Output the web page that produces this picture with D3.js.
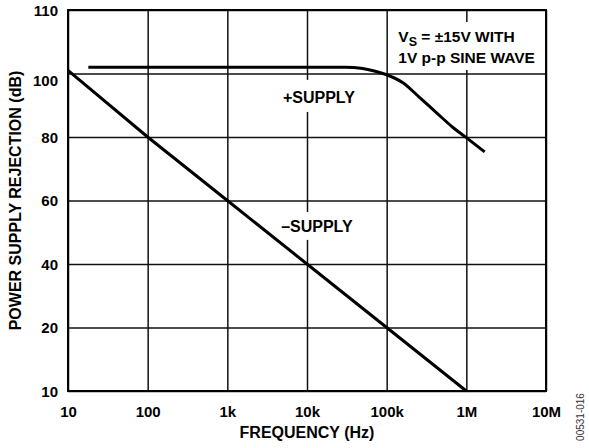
<!DOCTYPE html>
<html>
<head>
<meta charset="utf-8">
<script src="https://cdn.jsdelivr.net/npm/d3@7"></script>
<style>
  body { margin: 0; background: #fff; }
  text { font-family: "Liberation Sans", Arial, sans-serif; font-weight: bold; fill: #000; }
</style>
</head>
<body>
<svg class="chart"></svg>
<script>
// data
var xTicks = [10, 100, 1e3, 1e4, 1e5, 1e6, 1e7];
var xLabels = ["10", "100", "1k", "10k", "100k", "1M", "10M"];
var yTicks = [10, 20, 40, 60, 80, 100, 110];
var yLabels = ["10", "20", "40", "60", "80", "100", "110"];

var plusFreq = [18, 1000, 10000, 30000, 50000, 70000, 100000, 160000, 260000, 420000, 680000, 1000000, 1700000];
var plusDb   = [101, 101, 101, 101, 100.8, 100.4, 99.6, 97.1, 92.4, 87.7, 83, 79.8, 75.3];

var minusFreq = [10, 100, 1e3, 1e4, 1e5, 1e6];
var minusDb   = [100.5, 80, 60, 40, 20, 10];

function show() {
    'use strict';

    var margin = {top: 10, right: 43, bottom: 57, left: 68},
        width = 589 - margin.left - margin.right,
        height = 448 - margin.top - margin.bottom;

    var root = d3.select(".chart")
        .attr("width", 589)
        .attr("height", 448);

    var svg = root.append("g")
        .attr("transform", "translate(" + margin.left + "," + margin.top + ")");

    var x = d3.scaleLog().domain([10, 1e7]).range([0, width]);
    // ticks sit evenly spaced although they are not evenly spaced in dB
    var y = d3.scaleLinear()
        .domain(yTicks)
        .range(yTicks.map(function (d, i) { return height - i * height / (yTicks.length - 1); }));

    // tick labels
    var xa = svg.append("g")
        .attr("transform", "translate(0," + height + ")")
        .call(d3.axisBottom(x).tickValues(xTicks).tickSize(0).tickPadding(15)
            .tickFormat(function (d, i) { return xLabels[i]; }));
    xa.select(".domain").remove();
    xa.selectAll("text").style("font-size", "15px").style("font-family", null);

    var ya = svg.append("g")
        .call(d3.axisLeft(y).tickValues(yTicks).tickSize(0).tickPadding(10)
            .tickFormat(function (d, i) { return yLabels[i]; }));
    ya.select(".domain").remove();
    ya.selectAll("text").style("font-size", "15px").style("font-family", null)
        .attr("dy", function (d) { return d === 100 ? "0.82em" : "0.36em"; });

    // grid
    svg.append("g")
        .attr("transform", "translate(0," + height + ")")
        .call(d3.axisBottom(x).tickValues(xTicks).tickSize(-height).tickFormat(""))
        .call(function (g) { g.select(".domain").remove(); })
        .selectAll("line").attr("stroke", "#111").attr("stroke-width", 1.5);

    svg.append("g")
        .call(d3.axisLeft(y).tickValues(yTicks).tickSize(-width).tickFormat(""))
        .call(function (g) { g.select(".domain").remove(); })
        .selectAll("line").attr("stroke", "#111").attr("stroke-width", 1.5);

    // white boxes behind the labels
    svg.append("rect")
        .attr("x", x(1.17e5)).attr("y", 12)
        .attr("width", width - x(1.17e5) - 1).attr("height", 48)
        .attr("fill", "#fff");

    svg.append("rect").attr("x", x(5.5e3)).attr("y", y(98))
        .attr("width", 72).attr("height", y(87.9) - y(98)).attr("fill", "#fff");
    svg.append("rect").attr("x", x(5.5e3)).attr("y", y(56.4))
        .attr("width", 72).attr("height", y(47.6) - y(56.4)).attr("fill", "#fff");

    // curves
    var plus = plusFreq.map(function (f, i) { return [f, plusDb[i]]; });
    var minus = minusFreq.map(function (f, i) { return [f, minusDb[i]]; });

    svg.append("path")
        .datum(plus)
        .attr("fill", "none").attr("stroke", "#000").attr("stroke-width", 3)
        .attr("d", d3.line().x(function (d) { return x(d[0]); }).y(function (d) { return y(d[1]); })
            .curve(d3.curveMonotoneX));

    svg.append("path")
        .datum(minus)
        .attr("fill", "none").attr("stroke", "#000").attr("stroke-width", 3)
        .attr("d", d3.line().x(function (d) { return x(d[0]); }).y(function (d) { return y(d[1]); }));

    // frame
    svg.append("rect")
        .attr("width", width).attr("height", height)
        .attr("fill", "none").attr("stroke", "#000").attr("stroke-width", 2);

    // labels on the curves
    svg.append("text").attr("x", x(1.41e4)).attr("y", y(90.7))
        .attr("text-anchor", "middle").style("font-size", "16px").text("+SUPPLY");
    svg.append("text").attr("x", x(1.33e4)).attr("y", y(50.1))
        .attr("text-anchor", "middle").style("font-size", "16px").text("\u2013SUPPLY");

    var note = svg.append("text").attr("x", x(1.4e5)).attr("y", 32).style("font-size", "15.5px");
    note.append("tspan").text("V");
    note.append("tspan").attr("dy", 4).style("font-size", "12.5px").text("S");
    note.append("tspan").attr("dy", -4).text(" = \u00b115V WITH");
    svg.append("text").attr("x", x(1.4e5)).attr("y", 53).style("font-size", "15.5px").text("1V p-p SINE WAVE");

    // axis titles
    svg.append("text")
        .attr("x", width / 2).attr("y", height + 47)
        .attr("text-anchor", "middle").style("font-size", "16px")
        .text("FREQUENCY (Hz)");

    svg.append("text")
        .attr("transform", "translate(" + (-47) + "," + (height / 2) + ") rotate(-90)")
        .attr("text-anchor", "middle").style("font-size", "16px")
        .text("POWER SUPPLY REJECTION (dB)");

    root.append("text")
        .attr("transform", "translate(584,417) rotate(-90)")
        .attr("text-anchor", "middle")
        .style("font-size", "10px").style("font-weight", "normal").style("fill", "#333")
        .text("00531-016");
}
show();
</script>
</body>
</html>
